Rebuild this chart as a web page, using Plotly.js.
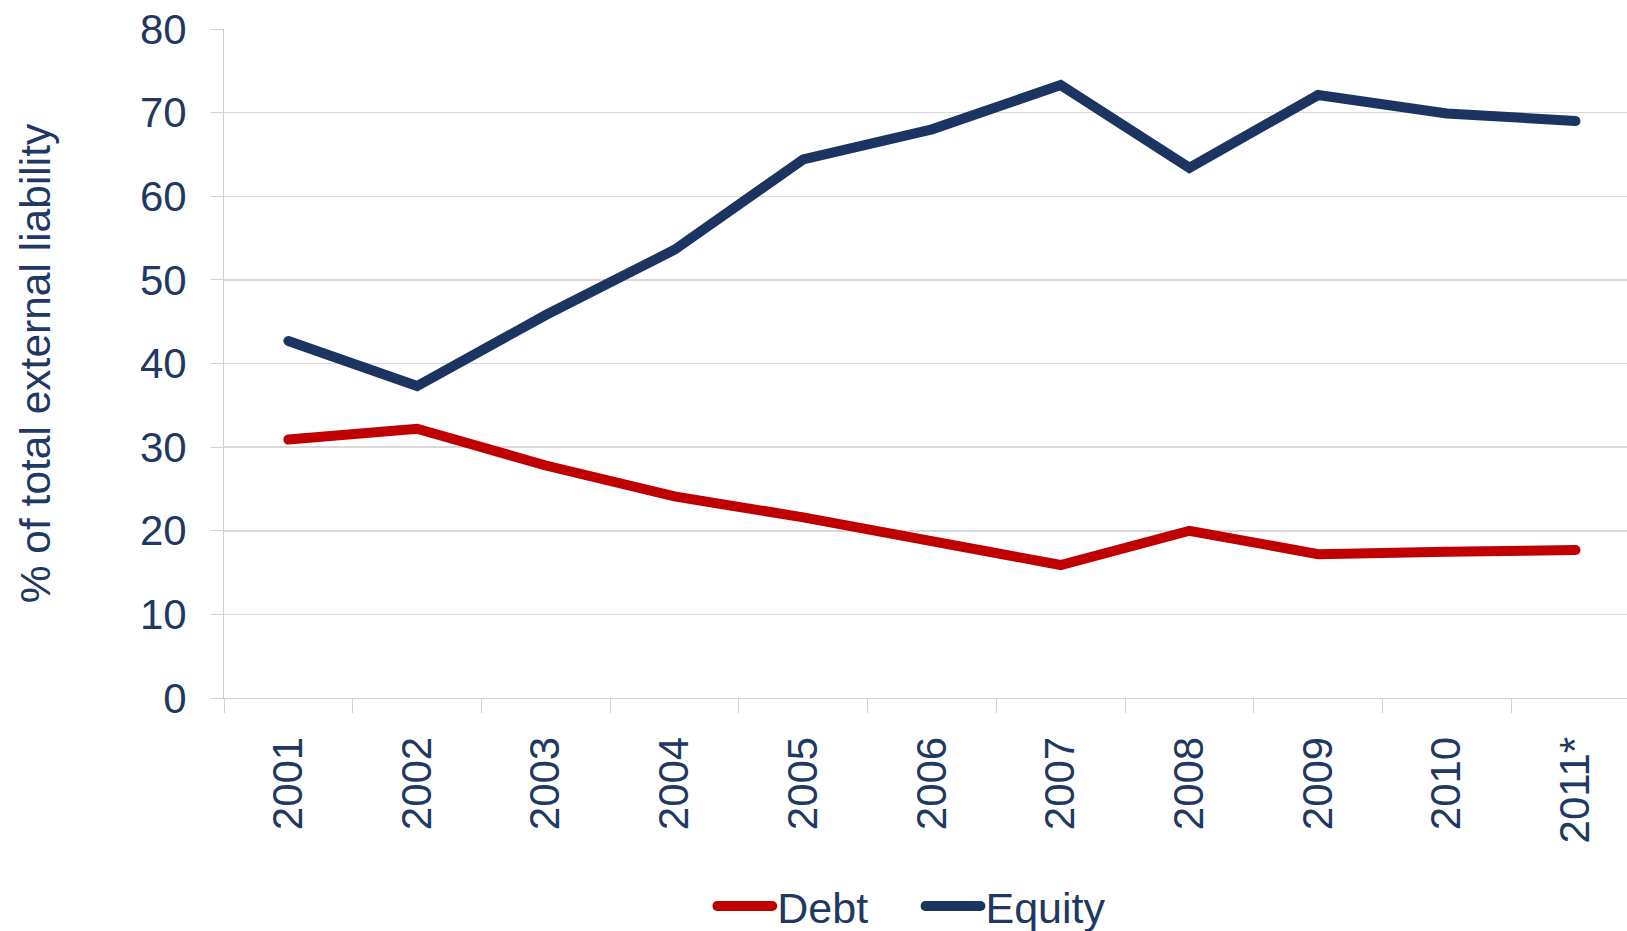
<!DOCTYPE html>
<html>
<head>
<meta charset="utf-8">
<script src="https://cdn.plot.ly/plotly-3.0.1.min.js"></script>
<style>
  html, body { margin: 0; padding: 0; background: #ffffff; }
  #chart { width: 1627px; height: 931px; }
  path.js-line { stroke-linecap: round; }
</style>
</head>
<body>
<div id="chart"></div>
<script>
const years = ["2001", "2002", "2003", "2004", "2005", "2006", "2007", "2008", "2009", "2010", "2011*"];
const debt = [30.9, 32.2, 27.8, 24.1, 21.6, 18.6, 15.9, 20.0, 17.2, 17.5, 17.7];
const equity = [42.7, 37.3, 45.8, 53.6, 64.4, 68.0, 73.3, 63.4, 72.1, 69.9, 69.0];
const yTicks = [0, 10, 20, 30, 40, 50, 60, 70, 80];

const textColor = "#1F3864";
const fontFamily = "Arial, 'Liberation Sans', sans-serif";

const traces = [
  {
    x: years, y: debt, name: "Debt", type: "scatter", mode: "lines",
    line: { color: "#C00000", width: 10 }, legend: "legend"
  },
  {
    x: years, y: equity, name: "Equity", type: "scatter", mode: "lines",
    line: { color: "#1B3462", width: 10 }, legend: "legend2"
  }
];

const legendBase = {
  orientation: "h", xanchor: "left", y: -0.311, yanchor: "middle",
  font: { size: 43, color: textColor }, itemwidth: 55, bgcolor: "rgba(0,0,0,0)"
};

const layout = {
  width: 1627, height: 931,
  margin: { l: 224, r: 0, t: 29, b: 233, autoexpand: false },
  paper_bgcolor: "#ffffff", plot_bgcolor: "#ffffff",
  font: { family: fontFamily, color: textColor, size: 42 },
  showlegend: true,
  legend: Object.assign({}, legendBase, { x: 0.348 }),
  legend2: Object.assign({}, legendBase, { x: 0.4964 }),
  xaxis: {
    type: "category", range: [-0.5, 10.4], automargin: false,
    tickangle: -90, tickson: "boundaries", ticks: "outside", ticklen: 14,
    tickcolor: "#d0d0d0", tickwidth: 1,
    showline: true, linecolor: "#d0d0d0", linewidth: 1,
    showgrid: false, zeroline: false,
    tickfont: { size: 42, color: textColor },
    ticklabelstandoff: 21, fixedrange: true
  },
  yaxis: {
    range: [0, 80], tickvals: yTicks, ticktext: yTicks.map(String), automargin: false,
    ticks: "outside", ticklen: 12, tickcolor: "#d0d0d0", tickwidth: 1,
    showline: true, linecolor: "#d0d0d0", linewidth: 1,
    showgrid: true, gridcolor: "#d9d9d9", gridwidth: 1.5,
    zeroline: false,
    tickfont: { size: 42, color: textColor },
    ticklabelstandoff: 16,
    title: { text: "% of total external liability", font: { size: 42.5, color: textColor }, standoff: 76 },
    fixedrange: true
  }
};

Plotly.newPlot("chart", traces, layout, { displayModeBar: false, staticPlot: true });
</script>
</body>
</html>
